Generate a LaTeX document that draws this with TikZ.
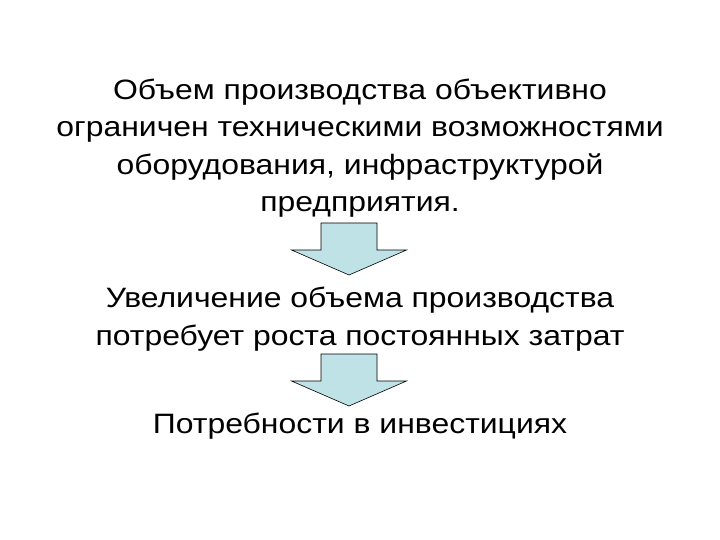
\documentclass[tikz,border=0pt]{standalone}
\usepackage{fontspec}
\setmainfont{Liberation Sans}[FakeStretch=1.14]
\definecolor{arrowfill}{RGB}{190,226,230}
\tikzset{
  txt/.style={align=center, inner sep=0pt, font=\fontsize{28}{37.5}\selectfont},
  arrowline/.style={draw=black, fill=arrowfill, line width=0.6pt, line join=miter},
  blockarrow/.pic={
    \draw[arrowline] (-28,-26) -- (28,-26) -- (28,1) -- (57.5,1) -- (0,26)
      -- (-57.5,1) -- (-28,1) -- cycle;
  },
}
\begin{document}
\begin{tikzpicture}[x=1pt, y=-1pt]
  \useasboundingbox (0,0) rectangle (720,540);
  \node[txt] (limit) at (360,148) {Объем производства объективно\\ограничен техническими возможностями\\оборудования, инфраструктурой\\предприятия.};
  \node[txt] (growth) at (360,319) {Увеличение объема производства\\потребует роста постоянных затрат};
  \node[txt] (invest) at (360,426) {Потребности в инвестициях};
  % block arrows between the statements
  \pic (arr1) at (349,249) {blockarrow};
  \pic (arr2) at (349,380) {blockarrow};
\end{tikzpicture}
\end{document}
